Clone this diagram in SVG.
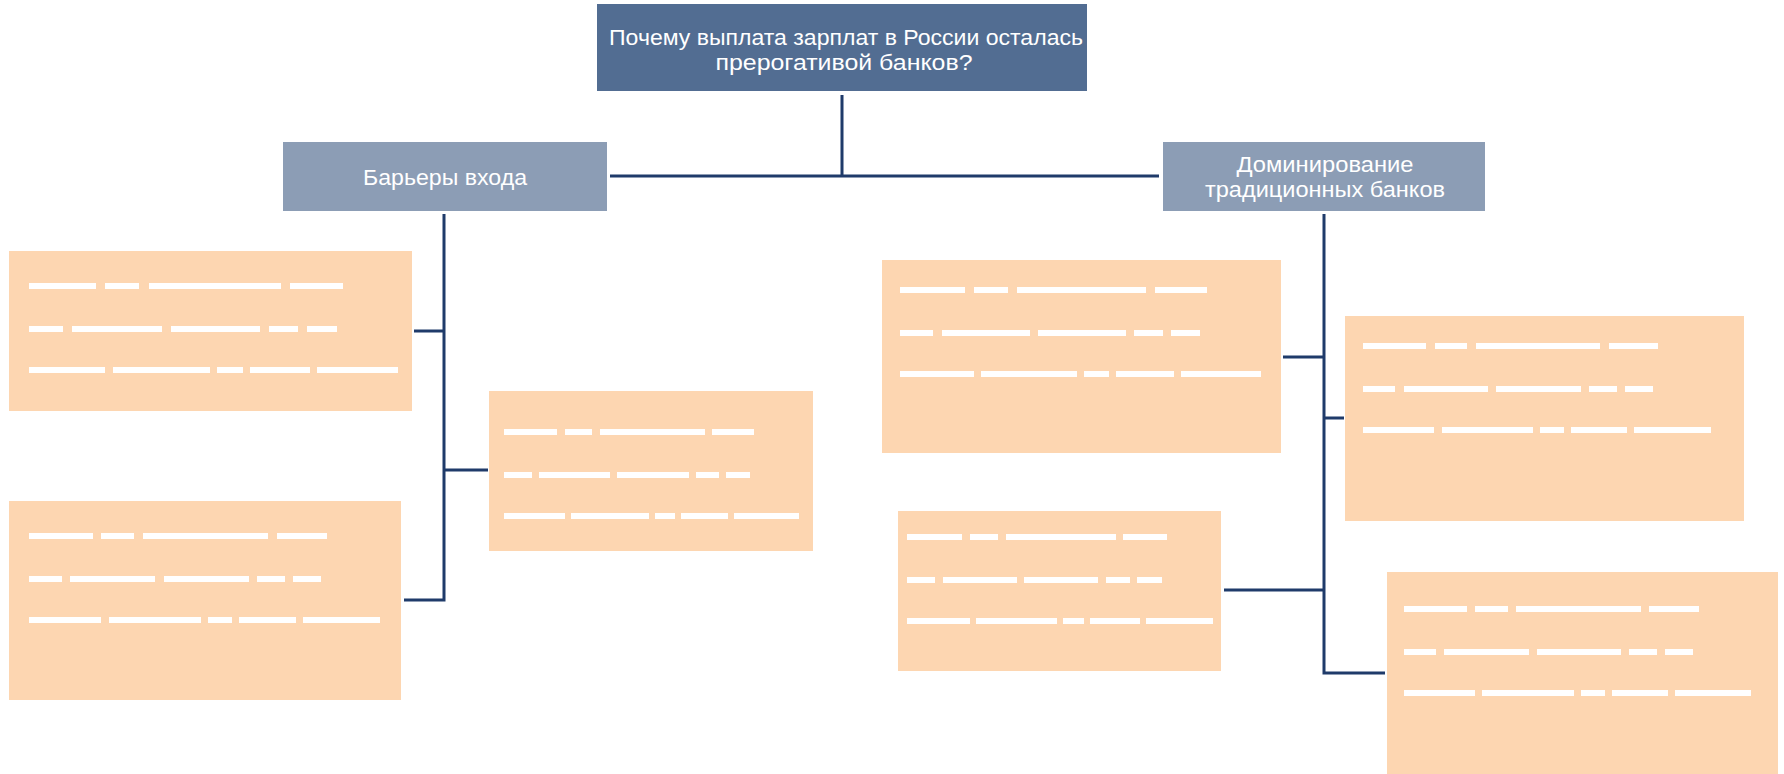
<svg xmlns="http://www.w3.org/2000/svg" width="1784" height="774" viewBox="0 0 1784 774">
<style>
.root{fill:#526D92}
.hdr{fill:#8C9DB5}
.card{fill:#FDD6B1}
.d{fill:#FFFFFF}
.t{font-family:"Liberation Sans","Open Sans",sans-serif;font-size:22px;fill:#FFFFFF;text-anchor:middle}
.c{fill:none;stroke:#1F3B6A;stroke-width:3}
</style>
<rect width="1784" height="774" fill="#FFFFFF"/>
<g id="connectors">
<path class="c" d="M842 95 V176 M610 176 H1159"/>
<path class="c" d="M444 214 V600 H404 M414 331 H444 M444 470 H488"/>
<path class="c" d="M1324 214 V673 H1385 M1283 357 H1324 M1324 418 H1344 M1224 590 H1324"/>
</g>
<g id="root">
<rect class="root" x="597" y="4" width="490" height="87"/>
<text class="t"><tspan x="846" y="45" textLength="474" lengthAdjust="spacingAndGlyphs">Почему выплата зарплат в России осталась</tspan><tspan x="844" y="70" textLength="257" lengthAdjust="spacingAndGlyphs">прерогативой банков?</tspan></text>
</g>
<g id="barriers">
<rect class="hdr" x="283" y="142" width="324" height="69"/>
<text class="t" x="445" y="185" textLength="164" lengthAdjust="spacingAndGlyphs">Барьеры входа</text>
</g>
<g id="dominance">
<rect class="hdr" x="1163" y="142" width="322" height="69"/>
<text class="t"><tspan x="1325" y="172" textLength="177" lengthAdjust="spacingAndGlyphs">Доминирование</tspan><tspan x="1325" y="197" textLength="240" lengthAdjust="spacingAndGlyphs">традиционных банков</tspan></text>
</g>
<g id="card1">
<rect class="card" x="9" y="251" width="403" height="160"/>
<rect class="d" x="29" y="283" width="67" height="6"/><rect class="d" x="105" y="283" width="34" height="6"/><rect class="d" x="149" y="283" width="132" height="6"/><rect class="d" x="290" y="283" width="53" height="6"/>
<rect class="d" x="29" y="326" width="34" height="6"/><rect class="d" x="72" y="326" width="90" height="6"/><rect class="d" x="171" y="326" width="89" height="6"/><rect class="d" x="269" y="326" width="29" height="6"/><rect class="d" x="307" y="326" width="30" height="6"/>
<rect class="d" x="29" y="367" width="76" height="6"/><rect class="d" x="113" y="367" width="97" height="6"/><rect class="d" x="217" y="367" width="26" height="6"/><rect class="d" x="250" y="367" width="60" height="6"/><rect class="d" x="317" y="367" width="81" height="6"/>
</g>
<g id="card2">
<rect class="card" x="9" y="501" width="392" height="199"/>
<rect class="d" x="29" y="533" width="64" height="6"/><rect class="d" x="101" y="533" width="33" height="6"/><rect class="d" x="143" y="533" width="125" height="6"/><rect class="d" x="277" y="533" width="50" height="6"/>
<rect class="d" x="29" y="576" width="33" height="6"/><rect class="d" x="70" y="576" width="85" height="6"/><rect class="d" x="164" y="576" width="85" height="6"/><rect class="d" x="257" y="576" width="28" height="6"/><rect class="d" x="293" y="576" width="28" height="6"/>
<rect class="d" x="29" y="617" width="72" height="6"/><rect class="d" x="109" y="617" width="92" height="6"/><rect class="d" x="208" y="617" width="24" height="6"/><rect class="d" x="239" y="617" width="57" height="6"/><rect class="d" x="303" y="617" width="77" height="6"/>
</g>
<g id="card3">
<rect class="card" x="489" y="391" width="324" height="160"/>
<rect class="d" x="504" y="429" width="53" height="6"/><rect class="d" x="565" y="429" width="27" height="6"/><rect class="d" x="600" y="429" width="105" height="6"/><rect class="d" x="712" y="429" width="42" height="6"/>
<rect class="d" x="504" y="472" width="28" height="6"/><rect class="d" x="539" y="472" width="71" height="6"/><rect class="d" x="617" y="472" width="72" height="6"/><rect class="d" x="696" y="472" width="23" height="6"/><rect class="d" x="726" y="472" width="24" height="6"/>
<rect class="d" x="504" y="513" width="61" height="6"/><rect class="d" x="571" y="513" width="78" height="6"/><rect class="d" x="655" y="513" width="20" height="6"/><rect class="d" x="681" y="513" width="47" height="6"/><rect class="d" x="734" y="513" width="65" height="6"/>
</g>
<g id="card4">
<rect class="card" x="882" y="260" width="399" height="193"/>
<rect class="d" x="900" y="287" width="65" height="6"/><rect class="d" x="974" y="287" width="34" height="6"/><rect class="d" x="1017" y="287" width="129" height="6"/><rect class="d" x="1155" y="287" width="52" height="6"/>
<rect class="d" x="900" y="330" width="33" height="6"/><rect class="d" x="942" y="330" width="88" height="6"/><rect class="d" x="1038" y="330" width="88" height="6"/><rect class="d" x="1134" y="330" width="29" height="6"/><rect class="d" x="1171" y="330" width="29" height="6"/>
<rect class="d" x="900" y="371" width="74" height="6"/><rect class="d" x="981" y="371" width="96" height="6"/><rect class="d" x="1084" y="371" width="25" height="6"/><rect class="d" x="1116" y="371" width="58" height="6"/><rect class="d" x="1181" y="371" width="80" height="6"/>
</g>
<g id="card5">
<rect class="card" x="1345" y="316" width="399" height="205"/>
<rect class="d" x="1363" y="343" width="63" height="6"/><rect class="d" x="1435" y="343" width="32" height="6"/><rect class="d" x="1476" y="343" width="124" height="6"/><rect class="d" x="1609" y="343" width="49" height="6"/>
<rect class="d" x="1363" y="386" width="32" height="6"/><rect class="d" x="1404" y="386" width="84" height="6"/><rect class="d" x="1496" y="386" width="85" height="6"/><rect class="d" x="1589" y="386" width="28" height="6"/><rect class="d" x="1625" y="386" width="28" height="6"/>
<rect class="d" x="1363" y="427" width="71" height="6"/><rect class="d" x="1442" y="427" width="91" height="6"/><rect class="d" x="1540" y="427" width="24" height="6"/><rect class="d" x="1571" y="427" width="56" height="6"/><rect class="d" x="1634" y="427" width="77" height="6"/>
</g>
<g id="card6">
<rect class="card" x="898" y="511" width="323" height="160"/>
<rect class="d" x="907" y="534" width="55" height="6"/><rect class="d" x="970" y="534" width="28" height="6"/><rect class="d" x="1006" y="534" width="110" height="6"/><rect class="d" x="1123" y="534" width="44" height="6"/>
<rect class="d" x="907" y="577" width="28" height="6"/><rect class="d" x="943" y="577" width="74" height="6"/><rect class="d" x="1024" y="577" width="74" height="6"/><rect class="d" x="1106" y="577" width="24" height="6"/><rect class="d" x="1137" y="577" width="25" height="6"/>
<rect class="d" x="907" y="618" width="63" height="6"/><rect class="d" x="976" y="618" width="81" height="6"/><rect class="d" x="1063" y="618" width="21" height="6"/><rect class="d" x="1090" y="618" width="50" height="6"/><rect class="d" x="1146" y="618" width="67" height="6"/>
</g>
<g id="card7">
<rect class="card" x="1387" y="572" width="391" height="202"/>
<rect class="d" x="1404" y="606" width="63" height="6"/><rect class="d" x="1475" y="606" width="33" height="6"/><rect class="d" x="1516" y="606" width="125" height="6"/><rect class="d" x="1649" y="606" width="50" height="6"/>
<rect class="d" x="1404" y="649" width="32" height="6"/><rect class="d" x="1444" y="649" width="85" height="6"/><rect class="d" x="1537" y="649" width="84" height="6"/><rect class="d" x="1629" y="649" width="28" height="6"/><rect class="d" x="1665" y="649" width="28" height="6"/>
<rect class="d" x="1404" y="690" width="71" height="6"/><rect class="d" x="1482" y="690" width="92" height="6"/><rect class="d" x="1581" y="690" width="24" height="6"/><rect class="d" x="1612" y="690" width="56" height="6"/><rect class="d" x="1675" y="690" width="76" height="6"/>
</g>
</svg>
